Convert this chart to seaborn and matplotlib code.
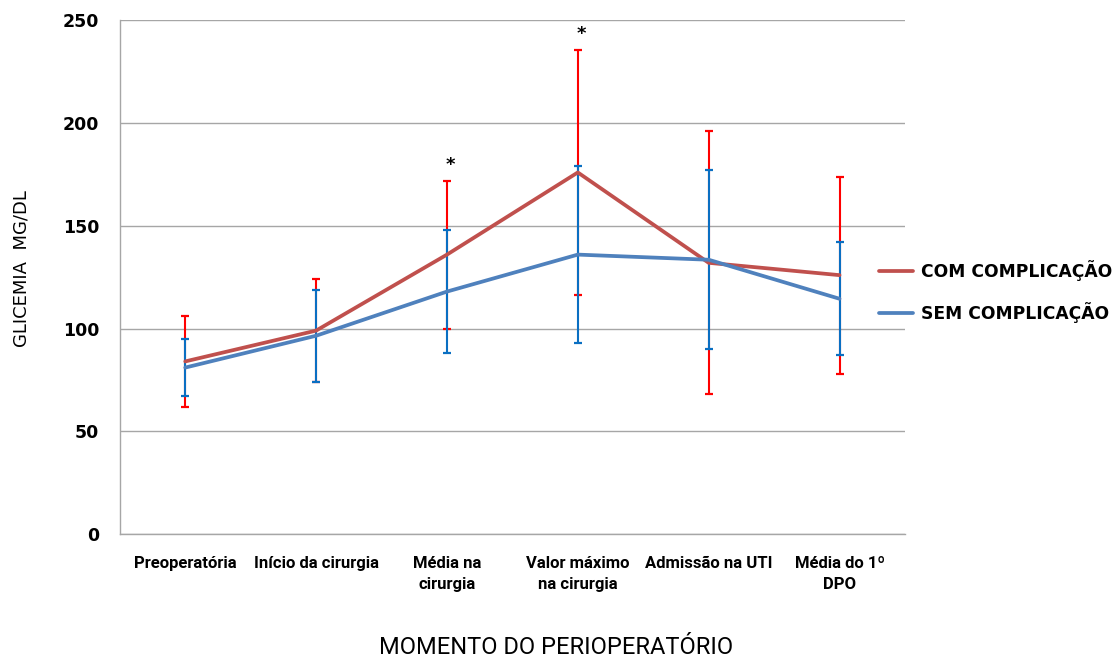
import matplotlib
matplotlib.use("Agg")
import matplotlib.pyplot as plt
import seaborn as sns
import pandas as pd
import numpy as np

# perioperative moments (x categories)
momentos = [
    "Preoperatória",
    "Início da cirurgia",
    "Média na\ncirurgia",
    "Valor máximo\nna cirurgia",
    "Admissão na UTI",
    "Média do 1º\nDPO",
]
grupos = ["COM COMPLICAÇÃO", "SEM COMPLICAÇÃO"]

# glicemia mean and SD
com_media = [84, 99, 136, 176, 132, 126]
com_dp = [22, 25, 36, 59.5, 64, 48]
sem_media = [81, 96.5, 118, 136, 133.5, 114.5]
sem_dp = [14, 22.5, 30, 43, 43.5, 27.5]

# moments marked as significant (*)
significativos = ["Média na\ncirurgia", "Valor máximo\nna cirurgia"]

cor_linha = {"COM COMPLICAÇÃO": "#C0504D", "SEM COMPLICAÇÃO": "#4F81BD"}
cor_erro = {"COM COMPLICAÇÃO": "#FF0000", "SEM COMPLICAÇÃO": "#0A6FC2"}

df = pd.DataFrame({
    "momento": momentos * 2,
    "glicemia": com_media + sem_media,
    "dp": com_dp + sem_dp,
    "grupo": [grupos[0]] * len(momentos) + [grupos[1]] * len(momentos),
})

sns.set_style("white")
plt.rcParams["font.family"] = ["DejaVu Sans"]
plt.rcParams["text.color"] = "black"
plt.rcParams["axes.labelcolor"] = "black"

fig, ax = plt.subplots(figsize=(11.2, 6.6), dpi=100)
fig.subplots_adjust(left=0.107, right=0.808, top=0.969, bottom=0.191)

# error bars first, lines on top
for g in grupos:
    sub = df[df.grupo == g]
    ax.errorbar(sub.momento, sub.glicemia, yerr=sub.dp, fmt="none",
                ecolor=cor_erro[g], elinewidth=1.5, capsize=3, capthick=1.6,
                zorder=2)

sns.lineplot(data=df, x="momento", y="glicemia", hue="grupo",
             hue_order=grupos, palette=cor_linha, linewidth=2.7,
             sort=False, ax=ax, zorder=3)

# asterisks above COM error bars
for m in significativos:
    i = momentos.index(m)
    ax.annotate("*", xy=(i, com_media[i] + com_dp[i]), xytext=(2.5, 5),
                textcoords="offset points", ha="center", va="bottom",
                fontsize=13, fontweight="bold", color="black")

ax.set_xlim(-0.5, len(momentos) - 0.5)
ax.set_ylim(0, 250)
ax.set_yticks(np.arange(0, 251, 50))

grid_c = "#A6A6A6"
ax.yaxis.grid(True, color=grid_c, linewidth=1.0)
ax.xaxis.grid(False)
ax.set_axisbelow(True)
for s in ["top", "right"]:
    ax.spines[s].set_visible(False)
for s in ["left", "bottom"]:
    ax.spines[s].set_color(grid_c)
    ax.spines[s].set_linewidth(1.0)

# x ticks: labels at categories, tick marks at boundaries
ax.set_xticks(range(len(momentos)))
ax.set_xticklabels(momentos, fontsize=12, fontweight="bold",
                   family=["Roboto", "DejaVu Sans"],
                   linespacing=1.45, va="top", color="black")
ax.tick_params(axis="x", which="major", length=0, pad=16)
ax.set_xticks(np.arange(-0.5, len(momentos), 1), minor=True)
ax.tick_params(axis="x", which="minor", length=5, color=grid_c, direction="out")
ax.tick_params(axis="y", length=5, color=grid_c, direction="out", pad=10,
               labelsize=12.5, labelcolor="black")
for t in ax.get_yticklabels():
    t.set_fontweight("bold")

ax.set_xlabel("MOMENTO DO PERIOPERATÓRIO", fontsize=17,
              family=["Roboto", "DejaVu Sans"])
ax.xaxis.set_label_coords(0.556, -0.221)
ax.xaxis.label.set_va("center")
ax.set_ylabel("GLICEMIA  MG/DL", fontsize=13)
ax.yaxis.set_label_coords(-0.114, 0.517)

handles, labels = ax.get_legend_handles_labels()
ax.legend(handles, labels, loc="center left", bbox_to_anchor=(0.967, 0.4726),
          frameon=False, borderaxespad=0, borderpad=0, handlelength=2.0,
          handletextpad=0.45, labelspacing=1.25,
          prop={"weight": "bold", "size": 12.3})

fig.savefig("out.png", dpi=100)
